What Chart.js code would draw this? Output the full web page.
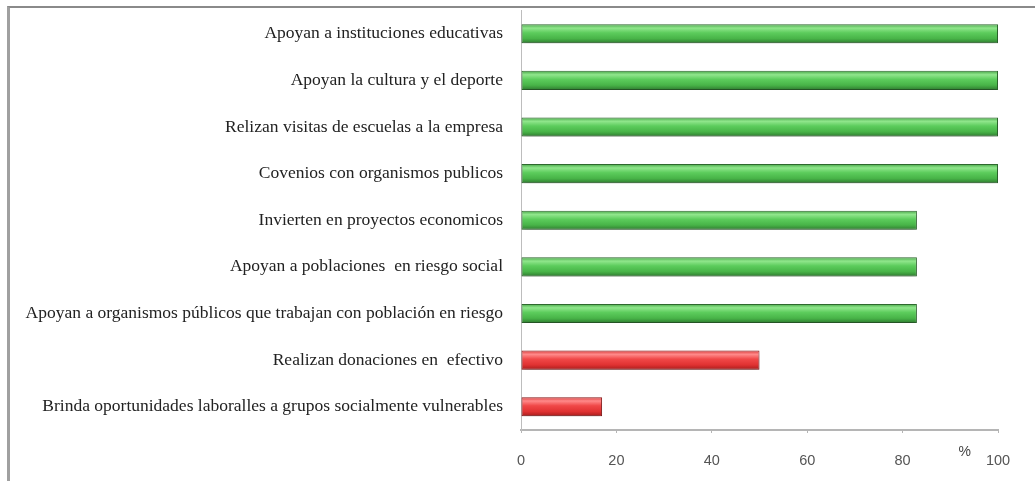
<!DOCTYPE html>
<html>
<head>
<meta charset="utf-8">
<script src="https://cdn.jsdelivr.net/npm/chart.js@4.4.1/dist/chart.umd.min.js"></script>
<style>
  html, body { margin: 0; padding: 0; background: #fff; }
  #wrap { position: relative; width: 1035px; height: 481px; overflow: hidden; }
  #frame { position: absolute; left: 7px; top: 6px; width: 1040px; height: 490px;
           border-top: 2px solid #8a8a8a; border-left: 3px solid #a0a0a0; box-sizing: border-box; }
  canvas { position: absolute; left: 0; top: 0; }
</style>
</head>
<body>
<div id="wrap">
  <div id="frame"></div>
  <canvas id="c" width="1035" height="481"></canvas>
</div>
<script>
const categories = [
  "Apoyan a instituciones educativas",
  "Apoyan la cultura y el deporte",
  "Relizan visitas de escuelas a la empresa",
  "Covenios con organismos publicos",
  "Invierten en proyectos economicos",
  "Apoyan a poblaciones  en riesgo social",
  "Apoyan a organismos públicos que trabajan con población en riesgo",
  "Realizan donaciones en  efectivo",
  "Brinda oportunidades laboralles a grupos socialmente vulnerables"
];
const values = [100, 100, 100, 100, 83, 83, 83, 50, 17];
const barGroup = ["green","green","green","green","green","green","green","red","red"];
const xTicks = [0, 20, 40, 60, 80, 100];
const axisUnit = "%";

const BAR_FRACTION = 0.41;
const palettes = {
  green: { stops: ["#46a646", "#90e68c", "#5ccc5c", "#48b448", "#2f7a30"], border: "#2f6a2f" },
  red:   { stops: ["#d83a3a", "#ff8a8a", "#f04848", "#e03232", "#a81c1c"], border: "#8a1a1a" }
};

function barFill(ctx) {
  const chart = ctx.chart;
  const p = palettes[barGroup[ctx.dataIndex]] || palettes.green;
  const ys = chart.scales.y;
  if (!chart.chartArea || !ys || !isFinite(ys.height) || ys.height <= 0) return p.stops[2];
  const yc = ys.getPixelForValue(ctx.dataIndex);
  const h = ys.height / categories.length * BAR_FRACTION;
  if (!isFinite(yc)) return p.stops[2];
  const g = chart.ctx.createLinearGradient(0, yc - h / 2, 0, yc + h / 2);
  g.addColorStop(0, p.stops[0]);
  g.addColorStop(0.2, p.stops[1]);
  g.addColorStop(0.45, p.stops[2]);
  g.addColorStop(0.75, p.stops[3]);
  g.addColorStop(1, p.stops[4]);
  return g;
}

const shadowPlugin = {
  id: 'barShadow',
  beforeDatasetsDraw(chart) {
    const c = chart.ctx;
    c.save();
    c.shadowColor = 'rgba(0,0,0,0.28)';
    c.shadowBlur = 5;
    c.shadowOffsetY = 3;
  },
  afterDatasetsDraw(chart) { chart.ctx.restore(); }
};

const unitPlugin = {
  id: 'unitLabel',
  afterDraw(chart) {
    const c = chart.ctx, xs = chart.scales.x;
    c.save();
    c.font = '14px "Liberation Sans", Arial, sans-serif';
    c.fillStyle = '#444';
    c.textAlign = 'center';
    c.textBaseline = 'middle';
    c.fillText(axisUnit, xs.getPixelForValue(93), xs.top + 22);
    c.restore();
  }
};

new Chart(document.getElementById('c'), {
  type: 'bar',
  data: {
    labels: categories,
    datasets: [{
      data: values,
      backgroundColor: barFill,
      borderColor: (ctx) => (palettes[barGroup[ctx.dataIndex]] || palettes.green).border,
      borderWidth: 1,
      borderSkipped: false,
      barPercentage: BAR_FRACTION,
      categoryPercentage: 1.0
    }]
  },
  options: {
    indexAxis: 'y',
    responsive: false,
    animation: false,
    events: [],
    layout: { padding: { top: 10, right: 37, left: 0, bottom: 0 } },
    plugins: { legend: { display: false }, tooltip: { enabled: false } },
    scales: {
      x: {
        min: 0, max: 100,
        afterBuildTicks: (axis) => { axis.ticks = xTicks.map(v => ({ value: v })); },
        grid: { drawOnChartArea: false, drawTicks: true, tickLength: 3, color: '#b5b5b5' },
        border: { display: true, color: '#b5b5b5', width: 2 },
        ticks: { padding: 19, color: '#555', font: { size: 14.5, family: '"Liberation Sans", Arial, sans-serif' }, maxRotation: 0 },
        afterFit: (axis) => { axis.height = 51; }
      },
      y: {
        grid: { drawOnChartArea: false, drawTicks: true, tickLength: 18, tickColor: 'rgba(0,0,0,0)' },
        border: { display: true, color: '#bdbdbd', width: 1 },
        ticks: { padding: 0, color: '#222', font: { size: 17.5, family: '"Liberation Serif", "Times New Roman", serif' } },
        afterFit: (axis) => { axis.width = 521; }
      }
    }
  },
  plugins: [shadowPlugin, unitPlugin]
});
</script>
</body>
</html>
